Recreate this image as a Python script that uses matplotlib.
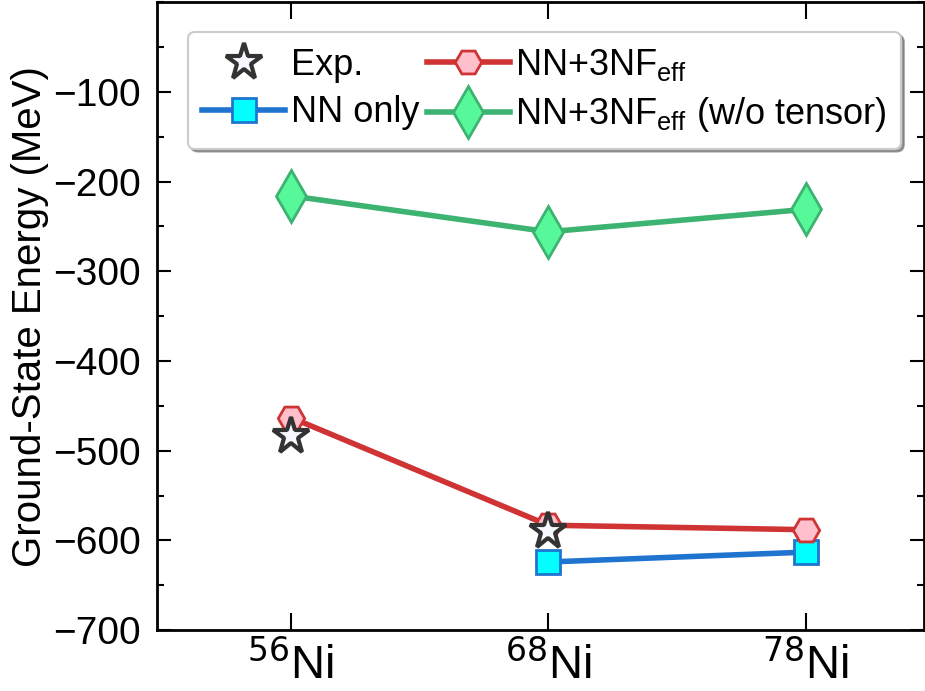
import numpy as np
import matplotlib
matplotlib.use("Agg")
import matplotlib.pyplot as plt
from matplotlib.ticker import MultipleLocator

plt.rcParams['font.family'] = ['Liberation Sans', 'DejaVu Sans']
plt.rcParams['mathtext.fontset'] = 'custom'
plt.rcParams['mathtext.rm'] = 'Liberation Sans'
plt.rcParams['mathtext.it'] = 'Liberation Sans:italic'

# nuclei on the x axis
nuclei = [56, 68, 78]
tick_labels = [r'$^{\mathsf{%d}}$Ni' % a for a in nuclei]

# ground-state energies (MeV)
exp_x = [0, 1]
exp_e = [-484, -590]
nn_x = [1, 2]
nn_e = [-624, -613]
nn3nf_x = [0, 1, 2]
nn3nf_e = [-463, -583, -588]
notensor_x = [0, 1, 2]
notensor_e = [-216, -256, -231]

fig = plt.figure(figsize=(9.25, 6.91), dpi=100)
ax = fig.add_axes([0.170, 0.088, 0.829, 0.909])

ax.plot(exp_x, exp_e, linestyle='none', marker='*', ms=28, mfc='#f7f7ff',
        mec='#333333', mew=3, label='Exp.', zorder=5)
ax.plot(nn_x, nn_e, '-', color='#1f74cf', lw=4, marker='s', ms=17,
        mfc='#00ffff', mec='#1f74cf', mew=2, label='NN only', zorder=2)
ax.plot(nn3nf_x, nn3nf_e, '-', color='#cf3333', lw=4, marker='H', ms=19,
        mfc='#ffc0cb', mec='#cf3333', mew=2, label=r'NN+3NF$_{\rm eff}$', zorder=3)
ax.plot(notensor_x, notensor_e, '-', color='#3cb371', lw=4, marker='d', ms=26,
        mfc='#57f89a', mec='#3cb371', mew=2,
        label=r'NN+3NF$_{\rm eff}$ (w/o tensor)', zorder=3)

ax.set_xlim(-0.52, 2.46)
ax.set_ylim(-700, 0)
ax.set_xticks(range(len(nuclei)))
ax.set_xticklabels(tick_labels, fontsize=34)
ax.yaxis.set_major_locator(MultipleLocator(100))
ax.yaxis.set_minor_locator(MultipleLocator(50))
ax.set_yticks([-700, -600, -500, -400, -300, -200, -100])
ax.tick_params(axis='y', which='major', direction='in', length=10, width=1.5,
               labelsize=28, pad=12, right=True)
ax.tick_params(axis='y', which='minor', direction='in', length=5, width=1.5,
               right=True)
ax.tick_params(axis='x', which='major', direction='in', length=12, width=1.5,
               pad=8, top=True)
ax.tick_params(axis='x', which='minor', bottom=False, top=False)
for s in ax.spines.values():
    s.set_linewidth(2)

ax.set_ylabel('Ground-State Energy (MeV)', fontsize=29, labelpad=3)

leg = ax.legend(loc='upper left', bbox_to_anchor=(0.04, 0.952), ncol=2,
                fontsize=26, frameon=True, fancybox=True, shadow=True,
                borderaxespad=0, handlelength=2.3, handletextpad=0.15,
                columnspacing=0.2, labelspacing=0.35, borderpad=0.4)
leg.get_frame().set_edgecolor('#cccccc')
leg.get_frame().set_linewidth(1.5)

fig.savefig('out.png', dpi=100)
